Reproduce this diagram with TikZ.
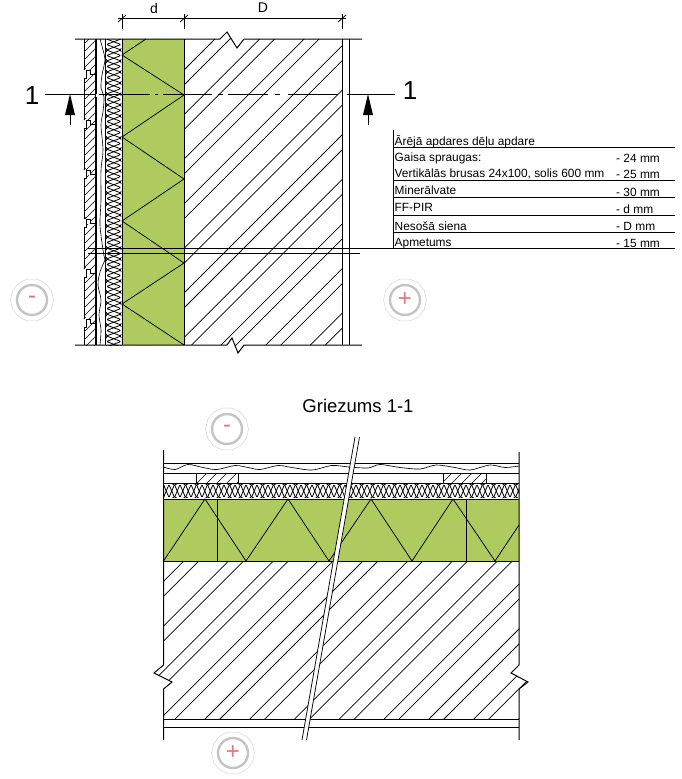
\documentclass[tikz,border=0pt]{standalone}
\usepackage{fontspec}
\setmainfont{Liberation Sans}
\usetikzlibrary{shapes.geometric}
\definecolor{insgreen}{HTML}{AFCB60}
\definecolor{ringgray}{HTML}{C4C4C4}
\definecolor{signred}{HTML}{E8747C}
\tikzset{
  ln/.style={line width=1pt,black},
  thn/.style={line width=0.75pt,black},
  tbl/.style={anchor=base west,inner sep=0pt,font=\fontsize{11.9}{12}\selectfont},
  dimtxt/.style={inner sep=0pt,font=\fontsize{14}{14}\selectfont},
  bigno/.style={inner sep=0pt,font=\fontsize{26}{26}\selectfont},
  polyring/.style={regular polygon,regular polygon sides=14,minimum size=43pt,inner sep=0pt,draw=ringgray!70,line width=0.5pt},
  thickring/.style={circle,minimum size=30pt,inner sep=0pt,draw=ringgray,line width=2.4pt},
  signmark/.style={inner sep=0pt,text=signred,font=\fontsize{24}{24}\selectfont}
}
\begin{document}
\begin{tikzpicture}[x=1pt,y=-1pt]
\useasboundingbox (0,0) rectangle (681,779);
\fill[white] (0,0) rectangle (681,779);

% ---------- upper elevation ----------
\fill[insgreen] (122,39) rectangle (184.5,345);
% wall hatch
\begin{scope}
\clip (184.5,39) -- (220,39) -- (227,32) -- (237,48) -- (244,39) -- (342,39) -- (342,345) -- (244,345) -- (238,353) -- (232,338) -- (227,345) -- (184.5,345) -- cycle;
\foreach \k in {-1,...,10}{
  \pgfmathsetmacro{\ca}{254+44.6*\k}
  \pgfmathsetmacro{\cb}{269+44.6*\k}
  \draw[thn] (\ca-400,400) -- (\ca,0);
  \draw[thn] (\cb-400,400) -- (\cb,0);
}
\end{scope}
% boards hatch
\begin{scope}
\clip (84,39) rectangle (95,345);
\foreach \k in {0,...,45}{
  \pgfmathsetmacro{\ca}{120+8*\k}
  \draw[line width=0.65pt] (\ca-400,400) -- (\ca,0);
}
\end{scope}
% board grooves
\foreach \g in {70,120,170,219,269,319}{
  \fill[white] (83,\g) rectangle (90.7,\g+4.5);
  \fill[white] (83,\g) rectangle (86.7,\g+8);
  \draw[thn] (84,\g+8) -- (86.7,\g+8) -- (86.7,\g) -- (90.7,\g) -- (90.7,\g+4.5) -- (95,\g+4.5);
  \draw[thn] (84,\g) -- (85.5,\g-2);
}
\draw[ln] (84,39) -- (84,70) (84,78) -- (84,120) (84,128) -- (84,170) (84,178) -- (84,219) (84,227) -- (84,269) (84,277) -- (84,319) (84,327) -- (84,345);
\draw[ln] (95,39) -- (95,345);
\draw[ln] (96.5,39) -- (96.5,94);
\draw[ln] (96.5,97) -- (96.5,345);
\draw[ln] (105,39) -- (105,345);
% wavy lines
\draw[line width=0.6pt] plot[smooth] coordinates {(100,39) (103,50) (105,60) (102,75) (101,88) (104,97) (103,112) (101,125) (103,150) (101,170) (101,200) (100,225) (103,250)(105,260)};
\draw[line width=0.6pt] plot[smooth] coordinates {(105,260)(100,272)(98,285)(101,300)(99,315)(101,330)(100,345)};
% insulation
\begin{scope}
\clip (105,39) rectangle (122,345);
\foreach \k in {0,...,28}{
  \pgfmathsetmacro{\ya}{39+11*\k}
  \draw[line width=0.8pt,rounded corners=1pt] (106.5,\ya-2) -- (106.5,\ya) -- (121,\ya+5.5) -- (106.5,\ya+11) -- (106.5,\ya+13);
  \draw[line width=0.8pt,rounded corners=1pt] (121,\ya-2) -- (121,\ya) -- (106.5,\ya+5.5) -- (121,\ya+11) -- (121,\ya+13);
}
\end{scope}
% insulation triangles
\draw[thn] (146,39) -- (122,55) -- (184,95) -- (122,137) -- (184,179) -- (122,221) -- (184,263) -- (122,304) -- (184,345);
\draw[ln] (122,39) -- (122,345);
\draw[ln] (184.5,39) -- (184.5,345);
\draw[ln] (342,39) -- (342,345);
\draw[ln] (349,39) -- (349,345);
\draw[ln] (75,39) -- (220,39) -- (227,32) -- (237,48) -- (244,39) -- (362,39);
\draw[ln] (75,345) -- (227,345) -- (232,338) -- (238,353) -- (244,345) -- (362,345);
% long lines
\draw[thn] (88,248.5) -- (675,248.5);
\draw[thn] (88,253) -- (360,253);
% section line
\draw[thn] (45,94) -- (95,94) (99,94) -- (150,94) (155,94) -- (158,94) (163,94) -- (212,94) (218,94) -- (223,94) (228,94) -- (268,94) (275,94) -- (280,94) (288,94) -- (338,94) (347,94) -- (395,94);
% section arrows
\fill (70,94) -- (75,115) -- (65,115) -- cycle;
\draw[thn] (70,115) -- (70,125);
\fill (368,94) -- (373,115) -- (363,115) -- cycle;
\draw[thn] (368,115) -- (368,125);
\node[bigno] (secL) at (32,96) {1};
\node[bigno] (secR) at (410,91) {1};
% dimensions
\draw[thn] (118,18) -- (346,18);
\foreach \x in {122,184,342}{
  \draw[thn] (\x,14) -- (\x,29);
  \draw[thn] (\x-4,22) -- (\x+4,15);
}
\node[dimtxt] (dimd) at (154,8) {d};
\node[dimtxt] (dimD) at (263,8) {D};

% ---------- table ----------
\draw[thn] (393,130) -- (393,248.5);
\foreach \y in {147,180,197,215,232}{ \draw[thn] (393,\y) -- (675,\y); }
\node[tbl] (t1) at (394.5,145) {Ārējā apdares dēļu apdare};
\node[tbl] (t2) at (394.5,161) {Gaisa spraugas:};
\node[tbl] (t3) at (394.5,177) {Vertikālās brusas 24x100, solis 600 mm};
\node[tbl] (t4) at (394.5,194) {Minerālvate};
\node[tbl] (t5) at (394.5,211) {FF-PIR};
\node[tbl] (t6) at (394.5,230) {Nesošā siena};
\node[tbl] (t7) at (394.5,246) {Apmetums};
\node[tbl] (v2) at (616,162) {- 24 mm};
\node[tbl] (v3) at (616,178) {- 25 mm};
\node[tbl] (v4) at (616,196) {- 30 mm};
\node[tbl] (v5) at (616,213) {- d mm};
\node[tbl] (v6) at (616,230) {- D mm};
\node[tbl] (v7) at (616,247) {- 15 mm};

% ---------- sign circles ----------
\foreach \nm/\px/\py/\sg in {a/32/300/-,b/405/300/+,c/227/429/-,d/233/753/+}{
  \node[polyring] (poly\nm) at (\px,\py) {};
  \node[thickring] (ring\nm) at (\px,\py) {};
  \node[signmark] (sign\nm) at (\px,\py) {\sg};
}

% ---------- title ----------
\node[inner sep=0pt,font=\fontsize{18.5}{19}\selectfont] (title) at (358,406) {Griezums 1-1};

% ---------- section 1-1 ----------
\fill[insgreen] (163.5,499) rectangle (519,561);
\begin{scope}
\clip (163.5,561) -- (519,561) -- (519,665) -- (511,673) -- (528,682) -- (519,689) -- (519,719) -- (163.5,719) -- (163.5,689) -- (172,682) -- (154,673) -- (163.5,665) -- cycle;
\foreach \k in {-5,...,8}{
  \pgfmathsetmacro{\ca}{924+44.8*\k}
  \pgfmathsetmacro{\cb}{939+44.8*\k}
  \draw[thn] (\ca-800,800) -- (\ca-400,400);
  \draw[thn] (\cb-800,800) -- (\cb-400,400);
}
\end{scope}
% battens
\begin{scope}
\clip (196,473) rectangle (238,483);
\foreach \k in {0,...,6}{ \draw[line width=0.65pt] (660+10*\k-500,500) -- (660+10*\k-460,460); }
\end{scope}
\begin{scope}
\clip (443,473) rectangle (486,483);
\foreach \k in {0,...,6}{ \draw[line width=0.65pt] (905+10*\k-500,500) -- (905+10*\k-460,460); }
\end{scope}
\draw[thn] (196,483) -- (196,473) (238,473) -- (238,483) (443,483) -- (443,473) (486,473) -- (486,483);
% insulation
\begin{scope}
\clip (163.5,483) rectangle (519,499);
\foreach \k in {0,...,32}{
  \pgfmathsetmacro{\xa}{163.5+11*\k}
  \draw[line width=0.8pt,rounded corners=1pt] (\xa-2,484.5) -- (\xa,484.5) -- (\xa+5.5,497.5) -- (\xa+11,484.5) -- (\xa+13,484.5);
  \draw[line width=0.8pt,rounded corners=1pt] (\xa-2,497.5) -- (\xa,497.5) -- (\xa+5.5,484.5) -- (\xa+11,497.5) -- (\xa+13,497.5);
}
\end{scope}
% wave
\draw[line width=0.65pt] plot[smooth] coordinates {(163.5,467) (175,469.5) (188,464.5) (203,467.5) (217,469.5) (235,465.5) (248,467.5) (260,469.5) (278,465.5) (292,467.5) (312,470) (332,465.5) (349,467) (368,468) (380,464.5) (400,467.5) (420,469) (436,465) (455,467.5) (470,470) (490,465) (505,467.5) (519,466)};
% triangles
\draw[thn] (163.5,561) -- (205,499) -- (246,561) -- (288,499) -- (329,561) -- (371,499) -- (412,561) -- (453,499) -- (495,561) -- (519,525);
\draw[thn] (217,499) -- (217,561) (466,499) -- (466,561);
% horizontal lines
\foreach \y in {463,473,483,499,561,719,727}{ \draw[ln] (163.5,\y) -- (519,\y); }
% sides
\draw[ln] (163.5,450) -- (163.5,665) -- (154,673) -- (172,682) -- (163.5,689) -- (163.5,740);
\draw[ln] (519,452) -- (519,665) -- (511,673) -- (528,682) -- (519,689) -- (519,740);
% break line
\fill[white] (355,437) -- (359.5,437) -- (306.5,740) -- (302,740) -- cycle;
\draw[thn] (355,437) -- (302,740);
\draw[thn] (359.5,437) -- (306.5,740);
\end{tikzpicture}
\end{document}
